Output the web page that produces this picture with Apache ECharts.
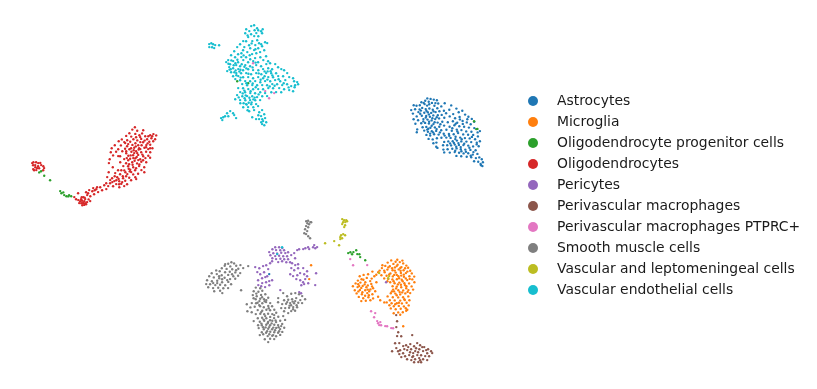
<!DOCTYPE html>
<html>
<head>
<meta charset="utf-8">
<script src="https://cdn.jsdelivr.net/npm/echarts@6/dist/echarts.min.js"></script>
<style>html,body{margin:0;background:#fff}#chart{width:817px;height:389px}</style>
</head>
<body>
<div id="chart"></div>
<script>
// values, as [x, y] on a 817 x 389 embedding
var astrocytes = [[427.3,98.4],[430.6,98.9],[425.2,100.7],[433.8,99.6],[436.9,100.3],[428.7,101.8],[421.4,102.2],[431.9,102.9],[438.2,103.5],[424.6,104.1],[413.7,105.3],[416.5,105.8],[419.8,105.2],[427.1,105.6],[434.4,105.7],[441.3,106.4],[444.7,103.2],[411.2,110.1],[415.1,109.2],[422.2,107.9],[425.7,109.1],[429.4,108.5],[432.8,109.7],[437.3,108.2],[412.9,113.6],[418.4,112.1],[420.9,110.6],[424.3,112.7],[427.8,112.2],[431.2,112.9],[435.6,112.1],[439.4,111.3],[443.9,110.7],[451.2,105.4],[456.4,108.6],[449.3,109.8],[416.7,116.4],[421.8,115.7],[426.2,115.9],[429.9,116.8],[433.3,115.4],[437.8,115.3],[441.7,114.9],[446.1,113.2],[453.2,114.1],[458.7,112.2],[462.3,110.8],[465.1,114.6],[468.4,116.7],[413.6,119.2],[418.1,120.3],[423.4,119.1],[427.5,119.6],[431.6,120.4],[435.2,119.1],[439.1,118.4],[444.3,117.8],[449.7,116.4],[455.1,118.2],[459.6,116.9],[471.8,118.9],[474.2,121.8],[415.4,123.7],[421.2,123.2],[425.1,122.9],[428.9,123.6],[433.4,124.1],[437.6,122.6],[442.3,121.7],[447.8,122.3],[452.9,121.3],[457.2,122.7],[462.6,120.9],[466.8,122.4],[470.7,124.3],[417.2,129.4],[422.6,127.2],[426.3,126.9],[430.4,127.8],[434.9,127.4],[439.3,126.8],[444.1,125.6],[449.6,126.7],[454.4,125.3],[459.3,126.2],[464.1,126.8],[468.9,127.6],[474.3,128.1],[416.8,132.2],[424.2,130.6],[427.9,131.8],[431.8,131.3],[436.2,130.9],[441.2,130.2],[446.4,129.8],[451.8,130.7],[456.8,129.6],[461.4,130.1],[466.2,131.4],[471.4,131.7],[477.6,132.4],[479.9,131.1],[426.4,134.9],[430.2,135.6],[434.1,134.3],[438.6,134.6],[443.7,133.7],[448.9,133.9],[453.7,134.2],[458.1,133.1],[463.2,134.4],[468.1,134.8],[473.2,134.9],[477.9,136.4],[428.6,138.9],[432.7,139.4],[436.9,138.2],[441.4,137.8],[446.3,137.6],[450.6,137.9],[455.6,136.8],[460.2,137.6],[464.9,138.1],[469.7,138.4],[475.1,139.2],[433.4,143.2],[436.4,142.6],[444.2,141.9],[448.3,141.4],[452.7,141.2],[456.9,140.6],[461.3,141.4],[466.4,141.6],[471.2,142.1],[476.8,142.8],[479.9,141.2],[436.2,146.7],[437.4,147.9],[443.1,145.3],[447.2,145.2],[451.1,145.4],[454.8,144.6],[458.9,144.9],[463.4,145.1],[468.2,145.6],[473.1,146.4],[478.7,146.2],[443.4,149.6],[447.6,149.2],[452.3,148.8],[456.6,148.4],[460.8,149.3],[465.3,149.6],[470.4,149.9],[475.6,150.3],[444.2,152.4],[449.8,152.6],[454.7,152.1],[459.1,152.8],[463.6,153.4],[468.2,153.3],[472.8,154.6],[477.4,153.9],[456.4,155.9],[461.2,156.3],[466.7,156.8],[471.2,157.3],[475.9,158.1],[479.3,157.4],[481.8,159.2],[474.1,161.2],[478.2,161.7],[480.6,163.9],[482.4,166.1],[481.1,165.2],[482.9,162.3],[423.7,102.9],[429.2,104.2],[435.4,103.1],[419.6,109.4],[426.4,110.7],[433.6,111.4],[420.2,113.8],[428.9,114.4],[436.7,117.2],[425.8,117.6],[432.4,118.3],[429.1,121.7],[423.3,121.4],[434.6,122.2],[440.4,124.2],[431.7,125.7],[428.3,128.8],[436.6,129.1],[433.2,132.4],[427.2,129.6],[430.1,133.6],[439.9,132.4],[444.6,135.6],[452.3,128.3],[457.4,131.4],[449.2,135.8],[455.3,139.1],[461.7,139.2],[458.4,143.1],[453.9,142.9],[450.1,143.4],[460.7,147.1],[456.2,146.7],[464.2,143.7],[469.4,147.7],[465.9,151.8],[461.4,151.2],[455.2,150.8],[473.4,152.1],[470.7,155.8],[476.7,144.4],[471.9,136.9],[462.8,123.9],[467.3,119.2],[455.7,123.8],[459.9,119.4]];
var microglia = [[391.2,260.4],[395.6,261.7],[399.8,262.1],[387.7,262.6],[393.4,263.9],[403.2,263.4],[397.6,264.8],[406.3,265.6],[385.3,265.9],[389.8,266.2],[394.9,267.4],[401.4,267.1],[408.1,267.8],[381.9,268.1],[387.4,269.6],[392.6,270.3],[398.7,269.4],[403.6,270.2],[410.2,270.8],[379.6,270.6],[384.7,272.2],[390.4,273.4],[395.7,272.6],[400.9,272.9],[405.9,273.1],[411.8,273.4],[372.4,271.6],[368.1,274.2],[376.3,274.7],[363.6,274.9],[359.7,276.2],[381.4,275.2],[386.6,275.7],[392.8,276.4],[398.4,276.2],[403.9,276.8],[409.4,276.2],[414.2,276.6],[361.6,279.3],[366.8,277.9],[371.7,278.6],[357.9,280.6],[388.3,278.9],[392.4,279.4],[396.9,279.2],[401.7,279.8],[407.2,280.1],[412.3,279.4],[355.6,283.4],[360.4,282.6],[365.3,282.2],[370.2,281.1],[376.4,282.3],[390.2,282.2],[394.6,283.2],[399.3,282.6],[404.4,283.2],[409.1,283.4],[414.4,282.2],[352.9,286.2],[357.6,287.1],[362.7,285.9],[367.8,285.4],[372.1,286.4],[392.6,286.2],[396.8,286.6],[401.2,287.3],[406.4,286.2],[411.6,286.4],[354.8,290.3],[359.9,289.9],[365.2,290.2],[370.4,289.4],[375.2,291.3],[393.1,289.6],[398.3,290.2],[403.2,290.4],[408.4,290.1],[413.1,289.6],[356.6,293.4],[361.9,294.2],[367.3,293.1],[372.4,294.3],[390.8,293.2],[395.4,293.6],[400.2,294.4],[405.3,293.4],[410.2,293.1],[358.8,296.9],[363.2,298.2],[368.4,297.3],[373.1,298.4],[387.6,296.4],[392.8,297.2],[398.2,297.4],[403.1,297.2],[408.3,296.4],[361.3,301.1],[365.8,300.7],[370.4,300.2],[389.8,300.2],[394.7,300.4],[400.2,300.6],[404.8,300.1],[409.4,300.3],[386.7,302.4],[391.6,303.2],[396.8,303.2],[401.9,303.4],[406.6,302.8],[393.8,306.2],[398.8,305.9],[403.9,306.4],[408.7,305.4],[390.8,308.4],[395.7,309.2],[400.7,308.7],[405.8,308.2],[398.2,312.4],[402.8,312.2],[393.7,313.2],[403.2,326.2],[378.1,296.8],[380.2,300.2],[384.3,302.4],[402.4,260.6],[397.3,259.7],[384.2,270.6],[389.2,274.4],[394.8,270.6],[400.3,267.9],[405.1,268.3],[396.8,274.9],[401.2,275.6],[402.7,281.2],[397.9,284.4],[393.6,281.2],[391.9,291.4],[396.7,295.2],[402.2,292.4],[406.2,288.2],[387.4,281.3],[384.2,278.4],[382.4,265.2],[378.2,272.3],[374.3,276.2],[363.4,279.7],[358.2,284.2],[361.3,287.9],[366.4,287.3],[365.1,295.7],[358.4,291.4],[369.2,291.2],[373.1,288.2],[398.9,302.7],[404.3,299.2],[395.2,304.2],[406.2,310.7],[400.2,314.7],[407.3,309.8],[389.4,305.2],[399.1,278.2],[394.2,274.9],[403.8,274.6],[407.4,271.6],[388.3,267.4],[392.1,268.2],[396.7,266.1],[400.6,270.8],[405.8,278.4],[409.7,278.9],[396.1,288.4],[400.9,284.7],[404.9,285.1],[407.6,291.9],[394.1,291.4],[399.7,292.1],[362.4,292.2],[367.7,289.6],[359.2,286.1],[364.6,284.4],[368.9,295.2],[371.3,283.9]];
var opcs = [[39.2,172.4],[41.1,171.3],[44.2,175.8],[50.1,180.3],[60.2,191.1],[61.4,193.2],[63.3,192.4],[64.2,195.1],[66.4,196.2],[68.3,196.4],[69.1,195.2],[71.2,196.3],[348.2,253.1],[350.4,252.3],[352.1,254.2],[353.4,252.1],[356.2,250.3],[357.3,254.1],[359.4,254.3],[360.2,257.1],[365.2,260.3],[474.1,121.2],[476.2,129.1],[477.4,128.9],[237.2,81.3],[248.1,83.2]];
var oligodendrocytes = [[134.9,127.2],[137.2,130.8],[132.3,129.6],[143.2,130.2],[142.1,133.4],[129.4,133.2],[135.3,133.9],[126.2,135.9],[131.2,136.6],[139.4,135.3],[145.2,136.2],[150.2,135.2],[153.4,134.1],[156.2,135.4],[121.8,139.4],[127.2,140.3],[133.4,139.2],[137.3,140.4],[141.2,138.9],[147.1,139.2],[151.4,138.3],[155.1,139.2],[118.7,141.2],[124.3,142.1],[130.2,141.7],[135.4,143.2],[143.1,142.2],[149.3,141.8],[153.2,141.3],[114.8,145.2],[120.9,145.4],[127.1,146.2],[132.4,144.9],[138.2,145.3],[146.3,145.1],[150.2,144.8],[111.7,148.2],[118.2,149.3],[125.1,148.8],[129.4,149.3],[134.2,147.8],[140.3,149.1],[144.4,147.7],[148.2,149.1],[152.4,148.2],[110.8,152.2],[116.1,151.7],[122.3,151.2],[126.2,153.3],[131.4,151.7],[136.1,151.2],[141.2,152.3],[146.1,151.8],[150.2,152.2],[113.1,155.4],[118.2,156.1],[128.3,155.8],[133.1,155.2],[138.2,154.9],[143.2,156.2],[148.3,155.7],[109.7,159.2],[124.2,159.1],[130.1,158.7],[135.4,158.3],[140.2,159.2],[145.4,158.1],[150.1,157.8],[108.9,163.1],[120.2,162.3],[126.1,163.2],[132.2,162.2],[137.1,163.4],[141.3,161.8],[146.2,162.2],[112.8,167.2],[123.3,166.1],[128.1,166.2],[133.2,167.3],[139.1,166.1],[144.2,167.2],[118.1,170.2],[124.3,170.4],[130.2,169.7],[135.1,170.2],[141.4,170.1],[108.7,172.2],[115.2,173.1],[120.1,174.2],[127.3,174.1],[133.2,174.4],[138.1,173.7],[144.3,172.2],[107.2,177.1],[112.1,178.2],[117.2,177.2],[123.1,178.3],[129.2,177.8],[135.3,177.2],[114.3,181.1],[119.2,181.3],[125.2,180.8],[131.1,180.2],[136.2,179.1],[110.1,183.2],[116.2,184.1],[121.3,183.8],[127.1,184.2],[108.2,186.1],[104.2,185.2],[113.1,186.3],[119.3,187.2],[124.2,186.1],[100.2,187.3],[102.1,190.2],[106.3,189.1],[96.2,189.3],[98.1,192.1],[92.3,191.2],[94.1,194.3],[89.2,190.1],[90.3,196.2],[86.1,192.3],[87.2,195.1],[83.3,197.2],[78.1,193.3],[85.2,199.1],[81.1,199.2],[78.3,200.1],[80.2,201.3],[82.1,200.8],[84.3,201.2],[79.2,203.1],[81.3,203.2],[83.1,202.9],[85.2,203.3],[87.1,202.1],[82.3,205.2],[84.2,204.9],[86.1,204.2],[90.2,201.1],[76.1,199.2],[74.3,197.1],[32.2,163.1],[33.4,162.2],[36.1,162.3],[38.2,163.1],[40.3,162.9],[33.1,165.2],[35.2,165.1],[38.1,166.2],[41.2,165.1],[43.3,166.2],[44.1,168.1],[35.3,167.2],[37.1,168.1],[33.2,169.1],[34.1,170.2],[36.3,170.1],[43.2,170.3],[39.1,168.2],[128.2,144.1],[136.1,137.2],[140.2,137.1],[148.3,136.2],[131.1,148.2],[137.2,153.1],[143.1,160.2],[133.3,158.1],[128.2,160.3],[136.1,168.2],[131.2,172.1],[126.1,176.2],[122.2,182.1],[116.3,180.2],[110.2,180.1],[139.1,148.2],[134.2,153.1],[146.1,147.2],[140.3,142.1],[150.1,148.3],[125.2,143.1],[120.1,156.2],[121.3,170.2],[129.1,164.2],[138.3,160.1],[126.2,151.2],[119.1,184.3],[112.3,182.1],[106.2,183.2],[97.1,187.2],[93.2,188.1],[88.1,193.2],[138.7,149.6],[135.8,146.4],[141.6,145.2],[133.7,150.3],[130.6,155.4],[136.7,156.9],[142.4,154.6],[126.8,158.1],[134.6,160.7],[139.4,164.4],[132.6,164.8],[128.7,168.7],[125.4,172.3],[129.7,171.4],[122.8,176.2],[118.6,178.9],[114.7,176.2],[147.6,143.4],[152.2,136.3],[144.6,140.6],[84.6,197.6],[81.7,197.2],[88.6,199.4],[94.7,190.2]];
var pericytes = [[275.2,247.3],[279.1,247.2],[282.3,248.1],[272.4,249.2],[276.1,250.1],[280.2,250.3],[284.1,250.2],[269.2,252.1],[273.3,253.2],[277.1,253.4],[281.2,252.8],[285.3,253.1],[288.1,252.2],[270.4,255.2],[275.2,256.1],[279.1,255.8],[283.2,256.3],[287.1,256.2],[291.2,255.1],[272.3,258.2],[276.1,259.1],[280.4,258.8],[284.2,259.2],[288.1,259.3],[278.2,262.1],[282.1,261.2],[286.3,262.2],[290.1,262.3],[294.2,253.1],[272.1,261.2],[297.2,250.1],[299.1,249.2],[303.2,249.1],[305.3,248.2],[308.1,247.3],[309.2,249.1],[313.1,247.2],[314.2,245.1],[315.3,248.2],[317.1,247.1],[255.2,267.1],[259.3,268.2],[263.1,266.1],[266.2,265.3],[270.1,263.2],[257.3,272.1],[260.2,274.2],[264.1,272.3],[268.2,269.1],[262.1,278.2],[265.3,277.1],[267.2,276.3],[258.1,280.2],[262.2,283.1],[266.1,282.3],[269.2,281.1],[272.1,280.2],[258.3,285.1],[261.2,286.2],[265.1,287.1],[269.3,285.2],[292.1,263.2],[295.2,265.1],[298.1,264.3],[291.3,268.1],[294.2,270.2],[298.1,268.3],[303.2,268.1],[307.1,271.2],[290.2,274.3],[293.1,276.1],[297.3,275.2],[300.1,273.1],[304.2,274.3],[307.1,276.2],[296.3,279.1],[300.2,280.2],[303.1,282.3],[305.2,279.1],[301.3,285.2],[304.1,284.1],[308.2,283.2],[316.1,273.2],[315.2,285.1],[295.1,258.2],[280.3,290.1],[299.2,292.1],[301.1,293.3],[386.1,282.2]];
var perivascularMacrophages = [[396.2,315.1],[397.1,321.2],[396.3,327.1],[398.2,332.2],[397.1,336.1],[401.2,336.3],[395.1,343.2],[399.3,343.1],[412.2,335.1],[392.1,351.2],[396.3,348.1],[400.1,350.3],[403.2,346.1],[406.1,345.2],[410.3,344.1],[414.1,346.2],[417.2,343.1],[420.1,345.3],[424.2,347.1],[428.1,349.2],[399.3,354.1],[403.1,353.2],[407.2,350.1],[411.1,349.3],[415.2,351.1],[419.3,349.2],[423.1,351.1],[427.2,353.2],[431.1,351.3],[401.3,357.1],[405.1,356.2],[409.2,355.1],[413.1,356.3],[417.3,355.1],[421.1,355.2],[425.2,356.1],[429.1,356.3],[432.2,353.1],[407.1,359.2],[411.3,360.1],[415.1,359.2],[419.2,358.1],[423.1,359.3],[427.2,360.1],[414.1,362.2],[418.3,362.1],[421.1,362.2],[408.2,347.1],[416.1,348.3],[422.2,347.1],[410.1,352.2],[404.3,349.1],[398.1,351.2],[413.2,353.1],[418.1,352.3],[426.2,350.1],[420.1,360.2],[412.3,357.1]];
var macrophagesPtprc = [[371.1,311.2],[375.2,313.1],[374.1,317.3],[377.2,321.1],[378.1,323.2],[380.3,322.1],[379.2,325.1],[381.1,325.2],[385.2,326.1],[387.1,326.3],[391.2,328.1],[393.1,328.2],[350.2,259.1],[353.1,265.2],[367.2,265.1],[253.1,63.2],[265.2,91.1],[269.1,98.2],[274.2,93.1]];
var smoothMuscle = [[306.2,221.3],[308.1,220.8],[310.3,222.1],[307.4,223.2],[309.1,224.3],[311.2,222.2],[306.1,226.1],[308.2,227.2],[305.1,229.3],[307.2,231.1],[304.3,233.2],[306.1,234.1],[308.2,236.3],[310.1,238.2],[231.4,262.2],[228.2,263.8],[234.1,263.4],[224.7,265.7],[230.3,266.4],[236.2,265.8],[240.4,265.1],[221.8,268.2],[226.6,268.9],[232.2,269.3],[238.3,268.7],[243.2,268.1],[216.2,270.4],[219.7,271.3],[225.1,272.2],[229.8,271.8],[235.3,272.4],[240.2,273.1],[211.7,273.2],[216.8,274.1],[221.7,275.2],[228.2,274.9],[233.3,276.2],[238.1,275.8],[209.2,276.3],[213.8,277.4],[219.2,278.2],[224.6,277.8],[230.1,279.1],[235.2,278.7],[207.1,280.2],[211.9,281.3],[217.2,280.8],[222.1,282.2],[228.3,281.9],[206.2,284.1],[210.1,284.3],[215.3,285.1],[220.1,284.8],[225.2,285.2],[231.1,284.3],[208.2,287.2],[213.1,288.1],[218.2,287.8],[223.3,288.3],[228.1,288.1],[214.2,291.2],[220.1,290.8],[222.3,293.1],[241.1,290.2],[248.2,266.1],[255.8,287.6],[260.2,288.3],[253.7,291.2],[258.4,291.8],[262.3,290.7],[252.8,295.1],[256.7,296.2],[261.1,294.9],[265.3,294.2],[255.7,299.2],[260.2,298.8],[264.1,299.3],[268.2,297.8],[251.8,303.1],[257.6,302.8],[262.3,303.2],[266.1,302.1],[270.2,303.1],[246.8,304.2],[254.7,306.8],[260.1,306.2],[263.8,307.2],[268.3,305.9],[272.1,306.2],[257.7,310.1],[262.2,310.8],[266.4,309.8],[270.1,310.2],[274.3,309.7],[251.7,312.2],[255.8,314.1],[260.3,313.8],[264.2,314.2],[268.1,313.7],[272.3,314.1],[276.2,312.8],[257.8,318.2],[262.1,317.7],[266.3,318.2],[270.2,316.9],[274.1,318.1],[278.3,316.8],[283.2,316.1],[253.7,321.1],[259.8,321.8],[264.2,320.8],[268.1,321.9],[272.3,320.7],[276.1,322.1],[280.2,320.8],[285.1,319.9],[261.8,325.2],[266.2,324.8],[270.1,325.2],[274.3,324.7],[278.1,325.1],[282.2,323.9],[258.7,328.1],[263.8,329.2],[268.2,328.8],[272.1,329.3],[276.2,327.9],[280.1,329.1],[284.2,327.8],[261.8,332.2],[266.1,332.8],[270.3,331.7],[274.2,332.2],[278.1,332.8],[282.3,331.9],[259.8,335.1],[267.7,336.1],[272.2,335.8],[276.1,336.2],[280.2,334.9],[264.8,339.2],[270.1,338.8],[274.2,339.1],[268.2,342.1],[283.2,293.1],[287.1,296.2],[291.2,293.8],[295.3,293.1],[299.1,294.2],[302.2,296.1],[284.1,300.2],[288.2,299.8],[292.1,299.2],[296.2,298.1],[300.3,300.1],[305.1,299.2],[282.2,304.1],[286.1,303.7],[290.2,303.1],[294.1,303.2],[298.3,302.8],[302.1,303.1],[285.2,308.1],[289.1,307.8],[293.2,307.1],[297.1,307.2],[291.2,311.1],[295.1,310.8],[288.2,313.1],[284.1,311.2],[278.2,298.1],[278.1,302.2],[281.2,308.1],[262.1,297.2],[259.2,305.1],[266.3,300.1],[270.1,320.2],[265.2,316.1],[258.1,325.2],[274.2,315.1],[263.1,327.2],[269.2,327.1],[275.1,330.2],[281.2,326.1],[267.1,331.2],[273.2,335.1],[279.1,331.2],[261.2,312.1],[256.1,303.2],[295.2,301.1],[291.1,305.2],[287.2,302.1],[293.1,309.2],[225.2,264.1],[219.1,276.2],[213.2,283.1],[232.1,274.2],[227.2,280.1],[222.1,279.2],[217.2,283.1],[236.1,270.2],[263.6,319.6],[267.7,323.2],[271.6,323.4],[275.6,320.4],[261.4,323.6],[265.6,327.4],[273.3,327.6],[278.6,327.2],[263.2,334.3],[269.3,334.2],[264.7,301.3],[268.7,308.2],[259.4,301.1],[253.6,298.2],[256.3,293.6],[296.6,305.3],[292.7,301.6],[289.6,305.6],[247.4,311.2],[250.4,307.4]];
var vascularLepto = [[342.2,219.1],[344.1,220.3],[346.2,220.1],[343.1,222.2],[345.3,222.1],[347.1,221.2],[342.2,224.1],[345.1,225.2],[344.2,227.1],[341.1,235.2],[343.2,234.1],[345.1,235.3],[340.2,237.1],[342.1,238.2],[340.3,239.1],[325.1,243.2],[334.2,241.1],[339.1,245.2],[379.2,273.1],[388.1,278.2],[389.2,276.1]];
var vascularEndothelial = [[209.2,44.1],[211.3,43.2],[213.1,44.3],[215.2,45.1],[219.1,45.2],[209.3,47.1],[212.1,47.2],[214.2,48.1],[251.2,26.1],[254.1,25.3],[246.2,29.2],[249.3,31.1],[257.1,28.2],[258.2,30.3],[261.1,31.2],[256.3,33.1],[245.2,33.2],[251.1,34.3],[254.2,36.1],[258.3,36.2],[262.1,33.2],[248.2,37.1],[246.1,41.2],[252.3,41.1],[257.2,40.3],[259.1,43.2],[243.2,41.1],[249.1,45.2],[255.3,45.1],[261.2,44.3],[265.1,42.2],[267.2,43.1],[240.1,44.2],[244.3,47.1],[250.2,48.3],[254.1,50.1],[258.2,48.2],[262.1,46.3],[237.2,47.1],[243.1,50.2],[247.3,52.1],[238.1,54.2],[234.2,51.3],[252.1,54.1],[256.3,53.2],[260.1,52.1],[264.2,50.3],[231.1,55.2],[228.2,60.1],[235.1,57.3],[241.3,57.1],[246.1,57.2],[250.2,59.3],[255.1,58.1],[260.3,57.2],[266.1,56.3],[233.2,61.1],[238.1,62.2],[243.3,60.1],[248.1,62.3],[253.2,61.1],[258.1,62.2],[263.3,60.1],[268.1,61.2],[226.2,62.1],[230.1,64.3],[236.2,65.1],[240.1,66.2],[245.3,65.1],[250.1,66.3],[256.2,65.1],[261.1,66.2],[266.3,64.1],[270.1,63.2],[275.2,64.1],[278.1,67.3],[229.2,67.1],[233.1,68.2],[238.3,69.1],[243.1,70.2],[248.2,69.3],[253.1,70.1],[258.3,70.2],[263.1,69.1],[268.2,68.3],[272.1,69.2],[281.3,69.1],[284.1,70.2],[227.2,71.1],[231.1,72.3],[236.3,73.1],[241.1,73.2],[246.2,73.1],[251.1,74.3],[256.2,73.1],[261.3,74.2],[266.1,73.1],[271.2,73.3],[276.1,73.2],[287.2,73.1],[233.1,76.2],[238.3,76.1],[243.1,77.3],[248.2,77.1],[253.1,78.2],[258.2,77.1],[263.1,78.3],[268.3,77.1],[273.1,77.2],[278.2,76.1],[283.1,76.3],[289.2,77.1],[293.1,78.2],[235.3,79.1],[240.1,80.2],[245.2,81.1],[250.1,81.3],[255.2,81.1],[260.3,82.2],[265.1,81.1],[270.2,81.3],[275.1,80.1],[280.2,81.2],[285.3,80.1],[294.1,81.2],[297.2,82.1],[298.1,84.3],[242.2,84.1],[247.1,85.2],[252.3,85.1],[257.1,85.3],[262.2,85.1],[267.1,85.2],[272.3,84.1],[277.1,84.3],[282.2,85.1],[287.1,84.2],[291.2,86.1],[295.1,85.3],[238.2,88.1],[243.1,88.2],[248.3,89.1],[253.1,89.3],[258.2,89.1],[263.1,89.2],[268.3,88.1],[273.1,88.3],[279.2,88.1],[284.1,89.2],[289.2,90.1],[293.1,91.3],[240.2,92.1],[245.1,92.2],[250.3,93.1],[255.1,93.2],[260.2,92.3],[265.1,93.1],[271.3,92.2],[276.1,92.1],[281.2,92.3],[237.1,95.1],[242.3,96.2],[247.1,96.1],[252.2,96.3],[257.1,97.1],[262.2,96.2],[267.1,96.1],[235.2,99.3],[240.1,100.1],[245.3,100.2],[250.1,100.1],[255.2,100.3],[260.1,100.1],[240.3,103.2],[246.1,104.1],[251.2,104.3],[256.1,104.1],[243.2,107.2],[248.1,107.1],[253.3,107.3],[258.1,106.1],[249.2,111.2],[254.1,110.1],[259.2,112.3],[262.1,110.1],[258.3,115.2],[261.1,116.1],[264.2,114.3],[259.1,119.1],[262.3,119.2],[265.1,118.1],[261.2,122.3],[263.1,121.1],[266.2,122.2],[262.1,124.1],[264.3,125.2],[221.1,118.1],[223.2,117.2],[225.1,116.3],[222.3,120.1],[227.1,113.2],[230.2,111.1],[233.1,113.3],[234.2,115.1],[228.3,116.2],[236.1,118.1],[252.2,117.3],[256.1,119.1],[241.4,53.2],[255.6,62.6],[244.4,66.8],[239.4,71.6],[235.6,70.4],[248.4,73.7],[252.6,67.4],[258.7,73.4],[264.6,76.2],[272.4,75.4],[278.6,79.2],[246.4,83.2],[252.7,83.4],[240.6,77.6],[236.4,75.2],[229.6,69.6],[233.7,65.2],[237.4,59.7],[243.6,55.4],[249.7,55.2],[255.4,49.2],[251.6,43.4],[247.6,35.4],[254.6,30.2],[262.7,29.2],[245.7,95.4],[250.6,91.2],[255.7,87.3],[260.6,79.7],[267.6,71.4],[251.6,102.4],[244.6,98.2],[258.6,94.4],[247.6,110.2],[238.7,97.4],[294.6,87.2],[288.6,87.4],[283.7,83.2],[246.7,104.6],[253.4,99.4],[249.4,97.7],[242.7,93.4],[244.4,90.6],[254.7,97.6],[248.7,102.7],[243.6,103.2],[231.4,60.4],[228.4,63.7],[235.4,63.2],[240.4,69.7],[234.4,72.2],[246.4,68.4],[230.7,69.2],[241.7,64.2],[264.6,71.4],[270.6,71.2],[267.4,79.6],[274.6,85.7],[269.7,86.4]];
// strays sitting inside other clusters, read separately
var astrocyteStrays = [[269.2,274.1]];
var microgliaStrays = [[311.1,265.2],[309.2,279.1]];
var endothelialStrays = [[282.1,247.2],[277.2,254.1]];

var categories = ['Astrocytes', 'Microglia', 'Oligodendrocyte progenitor cells', 'Oligodendrocytes', 'Pericytes', 'Perivascular macrophages', 'Perivascular macrophages PTPRC+', 'Smooth muscle cells', 'Vascular and leptomeningeal cells', 'Vascular endothelial cells'];
var colors = ['#1f77b4', '#ff7f0e', '#2ca02c', '#d62728', '#9467bd', '#8c564b', '#e377c2', '#7f7f7f', '#bcbd22', '#17becf'];
var values = [
    astrocytes.concat(astrocyteStrays),
    microglia.concat(microgliaStrays),
    opcs,
    oligodendrocytes,
    pericytes,
    perivascularMacrophages,
    macrophagesPtprc,
    smoothMuscle,
    vascularLepto,
    vascularEndothelial.concat(endothelialStrays)
];

var chart = echarts.init(document.getElementById('chart'), null, {renderer: 'canvas'});
chart.setOption({
    animation: false,
    backgroundColor: '#fff',
    color: colors,
    grid: {left: 0, right: 0, top: 0, bottom: 0},
    xAxis: {type: 'value', min: 0, max: 817, show: false},
    yAxis: {type: 'value', min: 0, max: 389, inverse: true, show: false},
    legend: {
        orient: 'vertical',
        left: 523,
        top: 88,
        itemWidth: 10,
        itemHeight: 10,
        itemGap: 5,
        icon: 'circle',
        selectedMode: false,
        data: categories,
        textStyle: {
            fontFamily: 'DejaVu Sans',
            fontSize: 13.9,
            color: '#1a1a1a',
            height: 16,
            lineHeight: 16,
            padding: [0, 0, 0, 14]
        }
    },
    series: categories.map(function(name, i) {
        return {
            name: name,
            type: 'scatter',
            data: values[i],
            symbolSize: 2.4,
            itemStyle: {color: colors[i], opacity: 1}
        };
    })
});
</script>
</body>
</html>
